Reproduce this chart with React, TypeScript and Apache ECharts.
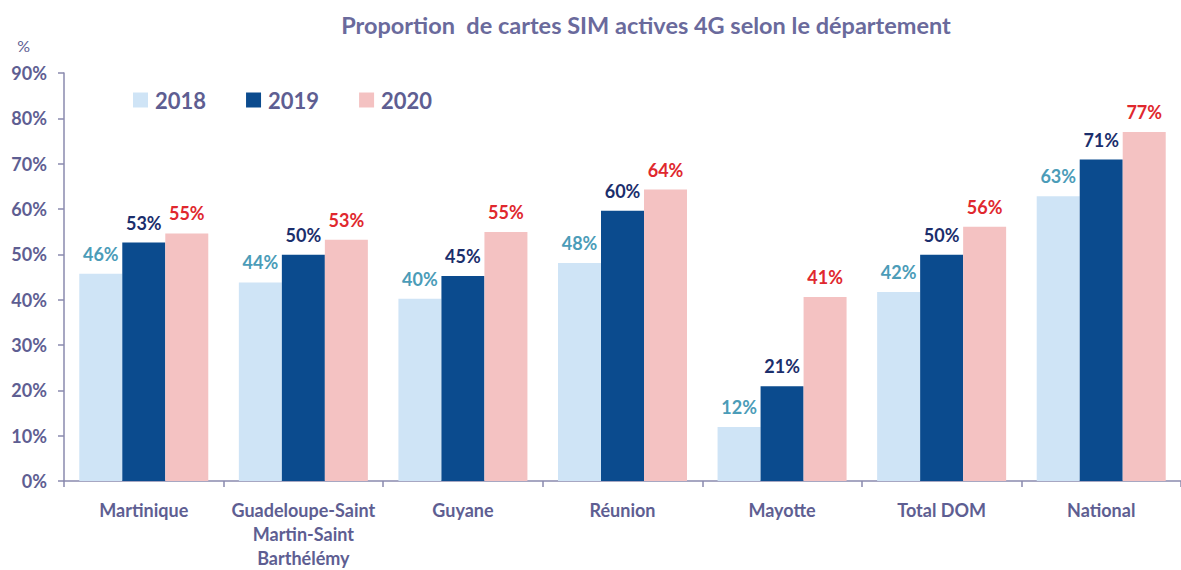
import React, { useEffect, useRef } from "react";
import * as echarts from "echarts";

const categories = [
  "Martinique",
  "Guadeloupe-Saint\nMartin-Saint\nBarthélémy",
  "Guyane",
  "Réunion",
  "Mayotte",
  "Total DOM",
  "National",
];
const years = ["2018", "2019", "2020"];
const values2018 = [45.7, 43.8, 40.2, 48.1, 11.9, 41.7, 62.8];
const values2019 = [52.6, 49.9, 45.2, 59.6, 20.9, 49.9, 70.9];
const values2020 = [54.6, 53.2, 54.9, 64.3, 40.6, 56.1, 77.0];
const yTicks = [0, 10, 20, 30, 40, 50, 60, 70, 80, 90];

const barColors = ["#CFE4F6", "#0B4B8E", "#F4C2C2"];
const labelColors = ["#4B9CB8", "#1B2E6C", "#E0282E"];
const FONT = "Lato, 'Open Sans', sans-serif";
const AXIS_TEXT = "#5E5E92";
const AXIS_LINE = "#8A8AAE";

export default function App() {
  const ref = useRef<HTMLDivElement>(null);
  useEffect(() => {
    document.body.style.margin = "0";
    const chart = echarts.init(ref.current!, undefined, { renderer: "svg" });
    const seriesData = [values2018, values2019, values2020];
    chart.setOption({
      animation: false,
      backgroundColor: "#ffffff",
      title: {
        text: "Proportion  de cartes SIM actives 4G selon le département",
        left: 641,
        textAlign: "center",
        top: 8,
        textStyle: { fontFamily: FONT, fontSize: 23.5, fontWeight: "bold", color: "#6A6A9C" },
      },
      legend: {
        left: 128,
        top: 84,
        itemWidth: 15,
        itemHeight: 15,
        itemGap: 40,
        icon: "rect",
        data: years,
        textStyle: { fontFamily: FONT, fontSize: 22, fontWeight: "bold", color: AXIS_TEXT, padding: [0, 0, 0, 2] },
      },
      grid: { left: 64, right: -3, top: 73, bottom: 85, containLabel: false },
      xAxis: {
        type: "category",
        data: categories,
        axisLine: { lineStyle: { color: AXIS_LINE, width: 1.5 } },
        axisTick: { show: true, length: 6, lineStyle: { color: AXIS_LINE, width: 1.5 } },
        axisLabel: {
          interval: 0,
          margin: 17,
          fontFamily: FONT,
          fontSize: 18,
          fontWeight: "bold",
          color: AXIS_TEXT,
          lineHeight: 24,
        },
      },
      yAxis: {
        type: "value",
        min: 0,
        max: 90,
        interval: 10,
        name: "%",
        nameLocation: "end",
        nameGap: 20,
        nameTextStyle: { fontFamily: FONT, fontSize: 16, color: AXIS_TEXT, align: "right", padding: [0, 34, 0, 0] },
        axisLine: { show: true, lineStyle: { color: AXIS_LINE, width: 1.5 } },
        axisTick: { show: true, length: 6, lineStyle: { color: AXIS_LINE, width: 1.5 } },
        splitLine: { show: false },
        axisLabel: {
          margin: 17,
          fontFamily: FONT,
          fontSize: 18,
          fontWeight: "bold",
          color: AXIS_TEXT,
          formatter: (v: number) => (yTicks.includes(v) ? v + "%" : ""),
        },
      },
      series: years.map((y, i) => ({
        name: y,
        type: "bar",
        data: seriesData[i],
        barWidth: 43,
        barGap: "0%",
        itemStyle: { color: barColors[i] },
        label: {
          show: true,
          position: "top",
          distance: 11,
          fontFamily: FONT,
          fontSize: 18,
          fontWeight: "bold",
          color: labelColors[i],
          formatter: (p: any) => Math.round(p.value) + "%",
        },
      })),
    });
    return () => chart.dispose();
  }, []);
  return <div ref={ref} style={{ width: 1181, height: 570 }} />;
}
